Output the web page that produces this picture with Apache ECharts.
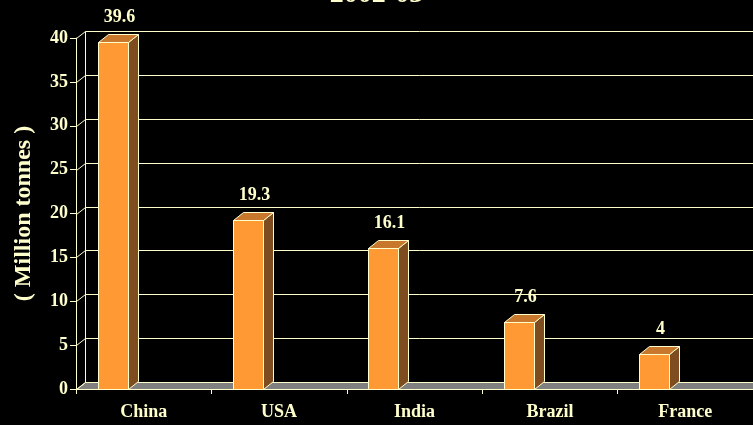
<!DOCTYPE html>
<html><head><meta charset="utf-8">
<script src="https://cdn.jsdelivr.net/npm/echarts@6/dist/echarts.min.js"></script>
<style>html,body{margin:0;padding:0;background:#000;}#c{width:753px;height:425px;}</style>
</head><body><div id="c"></div>
<script>
const titleText = '2002-03';
const categories = ['China', 'USA', 'India', 'Brazil', 'France'];
const values = [39.6, 19.3, 16.1, 7.6, 4];
const yTicks = [0, 5, 10, 15, 20, 25, 30, 35, 40];
const yName = '( Million tonnes )';

const CREAM = '#FFFFCC';
const FONT = '"Liberation Serif","Times New Roman",serif';
const DX = 9, DY = -7;      // wall depth
const BDX = 10, BDY = -8;   // bar depth
const px = v => Math.round(v) + 0.5;

const chart = echarts.init(document.getElementById('c'));
chart.setOption({
  backgroundColor: '#000',
  animation: false,
  title: {
    text: titleText, left: 'center', top: -24,
    textStyle: { color: CREAM, fontFamily: FONT, fontWeight: 'bold', fontSize: 28 }
  },
  grid: { left: 76, right: 0, top: 38, bottom: 36, containLabel: false, outerBoundsMode: 'none' },
  xAxis: {
    type: 'category', data: categories,
    axisLine: { show: true, lineStyle: { color: CREAM, width: 1 } },
    axisTick: { show: true, length: 5, lineStyle: { color: CREAM } },
    axisLabel: { color: CREAM, fontFamily: FONT, fontWeight: 'bold', fontSize: 18, margin: 14 },
    splitLine: { show: false }
  },
  yAxis: {
    type: 'value', min: 0, max: 40, interval: 5,
    name: yName, nameLocation: 'middle', nameRotate: 90, nameGap: 40,
    nameTextStyle: { color: CREAM, fontFamily: FONT, fontWeight: 'bold', fontSize: 24 },
    axisLine: { show: true, lineStyle: { color: CREAM, width: 1 } },
    axisTick: { show: true, length: 6, lineStyle: { color: CREAM } },
    axisLabel: { color: CREAM, fontFamily: FONT, fontWeight: 'bold', fontSize: 18, margin: 8 },
    splitLine: { show: false }
  },
  series: [
    {
      type: 'custom', z: 1, silent: true,
      data: yTicks.map(v => [0, v]),
      encode: { x: 0, y: 1 },
      renderItem: function (params, api) {
        const cs = params.coordSys;
        const v = api.value(1);
        const y = px(api.coord([0, v])[1]);
        const x0 = px(cs.x), x1 = cs.x + cs.width + 5;
        const children = [];
        if (v === 0) {
          const yTop = px(api.coord([0, 40])[1]);
          children.push({
            type: 'polygon',
            shape: { points: [[x0, y], [x0 + DX, y + DY], [x1, y + DY], [x1, y]] },
            style: { fill: '#808080', stroke: CREAM, lineWidth: 1 }
          });
          children.push({
            type: 'line',
            shape: { x1: x0 + DX, y1: y + DY, x2: x0 + DX, y2: yTop + DY },
            style: { stroke: CREAM, lineWidth: 1 }
          });
        }
        children.push({
          type: 'polyline',
          shape: { points: [[x0, y], [x0 + DX, y + DY], [x1, y + DY]] },
          style: { stroke: CREAM, lineWidth: 1, fill: null }
        });
        return { type: 'group', children: children };
      }
    },
    {
      type: 'custom', z: 3,
      data: values.map((v, i) => [i, v]),
      encode: { x: 0, y: 1 },
      renderItem: function (params, api) {
        const i = api.value(0), v = api.value(1);
        const c = api.coord([i, v]);
        const b = api.coord([i, 0]);
        const xl = px(c[0] - 46), xr = xl + 30;
        const yt = px(c[1]), yb = px(b[1]);
        return {
          type: 'group',
          children: [
            { type: 'polygon', shape: { points: [[xr, yt], [xr + BDX, yt + BDY], [xr + BDX, yb + BDY], [xr, yb]] },
              style: { fill: '#7F4C1F', stroke: CREAM, lineWidth: 1 } },
            { type: 'polygon', shape: { points: [[xl, yt], [xl + BDX, yt + BDY], [xr + BDX, yt + BDY], [xr, yt]] },
              style: { fill: '#C8782C', stroke: CREAM, lineWidth: 1 } },
            { type: 'rect', shape: { x: xl, y: yt, width: xr - xl, height: yb - yt },
              style: { fill: '#FF9933', stroke: CREAM, lineWidth: 1 } },
            { type: 'text', x: (xl + xr) / 2 + 6, y: yt - 25,
              style: { text: String(v), fill: CREAM, font: 'bold 18px ' + FONT, textAlign: 'center', textVerticalAlign: 'middle' } }
          ]
        };
      }
    }
  ]
});
</script>
</body></html>
